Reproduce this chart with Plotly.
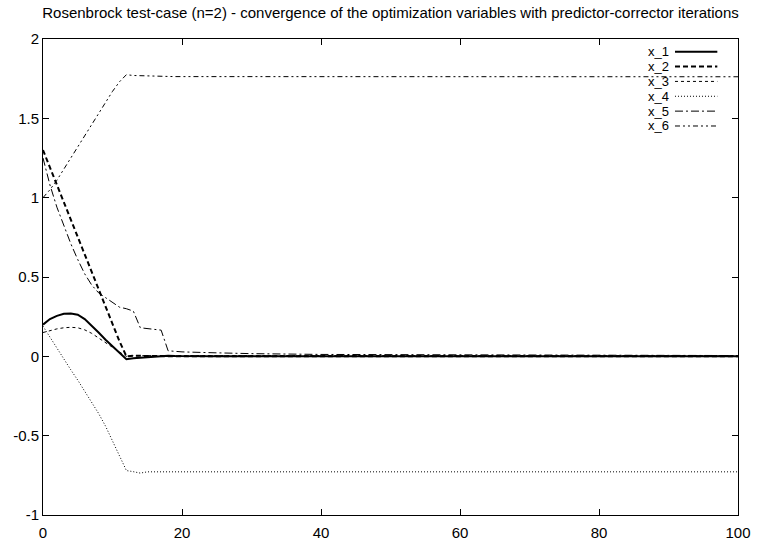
import plotly.graph_objects as go

# ---------------- data ----------------
series_names = ["x_1", "x_2", "x_3", "x_4", "x_5", "x_6"]

it_early = [0, 1, 2, 3, 4, 5, 6, 7, 8, 9, 10, 11, 12, 13, 14, 15, 16, 17, 18, 19, 20, 25, 30, 40, 50, 60, 70, 80, 90, 100]

x1_vals = [0.20, 0.235, 0.255, 0.268, 0.270, 0.262, 0.235, 0.195, 0.150, 0.105, 0.062, 0.020, -0.018, -0.012, -0.009, -0.006, -0.004, -0.002, 0.004, 0.002,
           0.001, 0.0, 0.0, 0.0, 0.0, 0.0, 0.0, 0.0, 0.0, 0.0]
x2_vals = [1.30, 1.19, 1.08, 0.97, 0.86, 0.75, 0.64, 0.53, 0.42, 0.31, 0.20, 0.095, 0.0, 0.004, 0.003, 0.002, 0.002, 0.001, 0.001, 0.001,
           0.0, 0.0, 0.0, 0.0, 0.0, 0.0, 0.0, 0.0, 0.0, 0.0]
x3_vals = [0.15, 0.163, 0.173, 0.180, 0.183, 0.180, 0.167, 0.145, 0.117, 0.087, 0.057, 0.027, 0.0, 0.004, 0.005, 0.005, 0.005, 0.005, 0.005, 0.005,
           0.005, 0.004, 0.004, 0.004, 0.004, 0.004, 0.004, 0.004, 0.004, 0.004]
x4_vals = [0.19, 0.12, 0.05, -0.02, -0.085, -0.15, -0.22, -0.29, -0.36, -0.44, -0.53, -0.62, -0.72, -0.727, -0.736, -0.728, -0.728, -0.728, -0.728, -0.728,
           -0.728, -0.728, -0.728, -0.728, -0.728, -0.728, -0.728, -0.728, -0.728, -0.728]
x5_vals = [1.25, 1.08, 0.94, 0.82, 0.71, 0.61, 0.52, 0.45, 0.40, 0.37, 0.34, 0.31, 0.30, 0.285, 0.18, 0.175, 0.17, 0.165, 0.035, 0.032,
           0.028, 0.022, 0.017, 0.012, 0.010, 0.008, 0.007, 0.006, 0.006, 0.005]
x6_vals = [1.00, 1.05, 1.11, 1.18, 1.25, 1.32, 1.39, 1.46, 1.53, 1.60, 1.67, 1.73, 1.775, 1.770, 1.768, 1.766, 1.765, 1.764, 1.764, 1.763,
           1.763, 1.763, 1.762, 1.762, 1.762, 1.762, 1.762, 1.762, 1.762, 1.762]

series_values = [x1_vals, x2_vals, x3_vals, x4_vals, x5_vals, x6_vals]

x_ticks = [0, 20, 40, 60, 80, 100]
y_ticks = [-1, -0.5, 0, 0.5, 1, 1.5, 2]
y_ticklabels = ["-1", "-0.5", "0", "0.5", "1", "1.5", "2"]

title_text = ("Rosenbrock test-case (n=2) - convergence of the optimization "
              "variables with predictor-corrector iterations")

# ---------------- styles ----------------
styles = [
    dict(width=2, dash="solid"),
    dict(width=2, dash="5px,3px"),
    dict(width=1, dash="3px,3px"),
    dict(width=1, dash="1px,2px"),
    dict(width=1, dash="8px,3px,2px,3px"),
    dict(width=1, dash="5px,3px,2px,3px,2px,3px"),
]

FONT = "Liberation Sans, Arial, sans-serif"

fig = go.Figure()
for name, vals, st in zip(series_names, series_values, styles):
    fig.add_trace(go.Scatter(
        x=it_early, y=vals, mode="lines", name=name,
        line=dict(color="black", width=st["width"], dash=st["dash"]),
        showlegend=False, hoverinfo="skip",
    ))

W, H = 763, 553
ml, mr, mt, mb = 43, 14, 39, 27
pw, ph = W - ml - mr, H - mt - mb

# manual gnuplot-style key: label then line sample
shapes = []
annotations = []
row0_px = 52
row_dy = 15.2
for i, (name, st) in enumerate(zip(series_names, styles)):
    ypx = row0_px + i * row_dy
    yp = (H - mb - ypx) / ph
    annotations.append(dict(
        x=(681 - ml) / pw, y=yp, xref="paper", yref="paper",
        text=name, showarrow=False, xanchor="right", yanchor="middle",
        font=dict(family=FONT, size=13, color="black"),
    ))
    shapes.append(dict(
        type="line", xref="paper", yref="paper",
        x0=(685 - ml) / pw, x1=(728 - ml) / pw, y0=yp, y1=yp,
        line=dict(color="black", width=st["width"], dash=st["dash"]),
    ))

axis_common = dict(
    showline=True, linecolor="black", linewidth=1, mirror="ticks",
    ticks="inside", ticklen=6, tickcolor="black", tickwidth=1,
    showgrid=False, zeroline=False,
    tickfont=dict(family=FONT, size=15, color="black"),
)

fig.update_layout(
    width=W, height=H,
    margin=dict(l=ml, r=mr, t=mt, b=mb, pad=0),
    paper_bgcolor="white", plot_bgcolor="white",
    title=dict(text=title_text, x=0.5, xref="paper", xanchor="center",
               y=1 - 13 / H, yref="container", yanchor="middle",
               font=dict(family=FONT, size=15, color="black")),
    xaxis=dict(range=[0, 100], tickvals=x_ticks, ticklabelstandoff=4, **axis_common),
    yaxis=dict(range=[-1, 2], tickvals=y_ticks, ticktext=y_ticklabels, **axis_common),
    shapes=shapes, annotations=annotations,
    showlegend=False,
)

fig.write_html("out.html")
